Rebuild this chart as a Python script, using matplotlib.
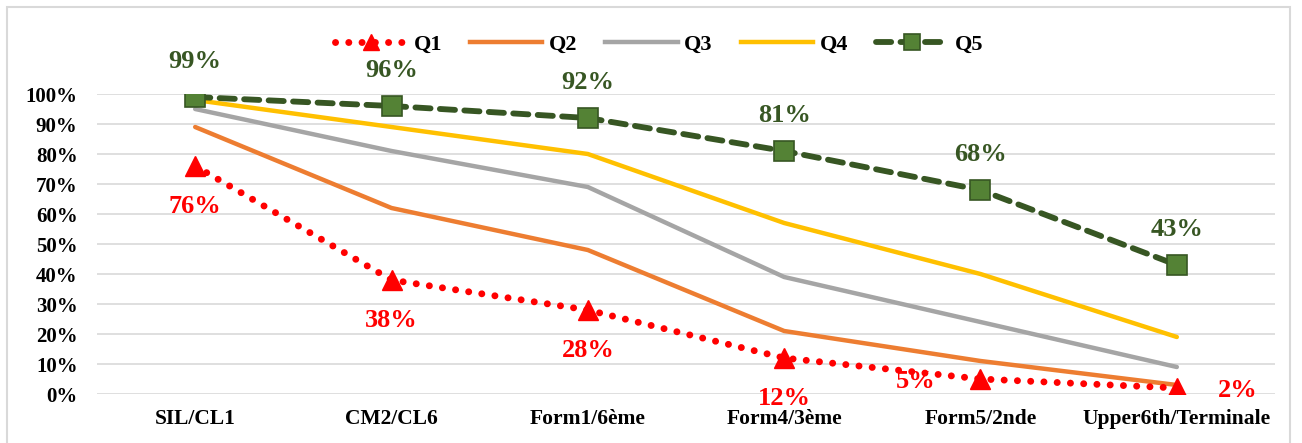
import matplotlib
matplotlib.use("Agg")
import matplotlib.pyplot as plt
from matplotlib.patches import Rectangle
from matplotlib.lines import Line2D

categories = ["SIL/CL1", "CM2/CL6", "Form1/6ème", "Form4/3ème", "Form5/2nde", "Upper6th/Terminale"]
q1 = [76, 38, 28, 12, 5, 2]
q2 = [89, 62, 48, 21, 11, 3]
q3 = [95, 81, 69, 39, 24, 9]
q4 = [98, 89, 80, 57, 40, 19]
q5 = [99, 96, 92, 81, 68, 43]

plt.rcParams['font.family'] = ['Liberation Serif', 'DejaVu Serif']

W, H = 1302, 443
fig = plt.figure(figsize=(W / 100, H / 100), dpi=100)
fig.patch.set_facecolor("white")

# outer frame
fig.add_artist(Rectangle((7 / W, -0.05), 1283 / W, 1.05 - 7 / H, transform=fig.transFigure,
                         fill=False, edgecolor="#D9D9D9", linewidth=1.5))

ax = fig.add_axes([97 / W, (H - 394) / H, 1178 / W, 300 / H])
x = list(range(len(categories)))
ax.set_xlim(-0.5, len(categories) - 0.5)
ax.set_ylim(0, 100)

for s in ax.spines.values():
    s.set_visible(False)
ax.set_yticks(range(0, 101, 10))
ax.set_yticklabels([f"{v}%" for v in range(0, 101, 10)], fontsize=15, fontweight="bold")
ax.set_xticks(x)
ax.set_xticklabels(categories, fontsize=15.5, fontweight="bold")
ax.tick_params(length=0, axis="y", pad=14)
ax.tick_params(length=0, axis="x", pad=11)
ax.grid(axis="y", color="#D9D9D9", linewidth=1.2)
ax.set_axisbelow(True)

q1_style = dict(color="#FF0000", lw=5, linestyle=(0, (0.01, 1.9)), dash_capstyle="round",
                marker="^", markerfacecolor="#FF0000", markeredgecolor="#FF0000")
q5_style = dict(color="#375623", lw=4.2, linestyle=(0, (2.6, 1.6)), dash_capstyle="round",
                marker="s", markerfacecolor="#548235", markeredgecolor="#375623",
                markeredgewidth=1.2)

ax.plot(x, q2, color="#ED7D31", lw=3.2, solid_capstyle="round", zorder=3)
ax.plot(x, q3, color="#A5A5A5", lw=3.2, solid_capstyle="round", zorder=3)
ax.plot(x, q4, color="#FFC000", lw=3.2, solid_capstyle="round", zorder=3)
ax.plot(x, q1, markersize=14, zorder=4, **q1_style)
ax.plot(x, q5, markersize=14, zorder=5, **q5_style)

# data labels
for i, v in enumerate(q5):
    ax.annotate(f"{v}%", (i, v), xytext=(0, 17), textcoords="offset points", ha="center",
                va="bottom", fontsize=19, fontweight="bold", color="#375623", annotation_clip=False)
q1_offsets = [(0, -21), (0, -21), (0, -21), (0, -21), (-47, -2), (44, -2)]
for i, v in enumerate(q1):
    dx, dy = q1_offsets[i]
    ax.annotate(f"{v}%", (i, v), xytext=(dx, dy), textcoords="offset points", ha="center",
                va="top" if dy < -5 else "center", fontsize=19, fontweight="bold",
                color="#FF0000", annotation_clip=False)

handles = [
    Line2D([], [], markersize=11, **q1_style),
    Line2D([], [], color="#ED7D31", lw=3.2),
    Line2D([], [], color="#A5A5A5", lw=3.2),
    Line2D([], [], color="#FFC000", lw=3.2),
    Line2D([], [], markersize=11, **q5_style),
]
fig.legend(handles, ["Q1", "Q2", "Q3", "Q4", "Q5"], loc="center", bbox_to_anchor=(659 / W, 1 - 45 / H),
           ncol=5, frameon=False, prop={"size": 16, "weight": "bold"}, handlelength=3.25,
           columnspacing=1.25, handletextpad=0.3)

fig.savefig("out.png", dpi=100, facecolor="white")
